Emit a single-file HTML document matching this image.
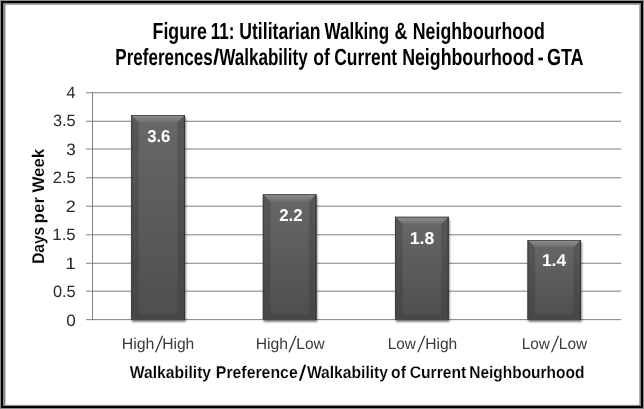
<!DOCTYPE html>
<html><head><meta charset="utf-8">
<style>
html,body{margin:0;padding:0;background:#fff;}
body{width:644px;height:409px;overflow:hidden;}
svg{display:block;filter:grayscale(1);}
text{font-family:"Liberation Sans",sans-serif;text-rendering:geometricPrecision;}
</style></head><body>
<svg width="644" height="409" viewBox="0 0 644 409">
<defs>
<linearGradient id="bevTop" x1="0" y1="0" x2="0" y2="1">
<stop offset="0" stop-color="#9a9a9a"/><stop offset="1" stop-color="#6c6c6c"/>
</linearGradient>
<linearGradient id="face" x1="0" y1="0" x2="0" y2="1">
<stop offset="0" stop-color="#686868"/><stop offset="1" stop-color="#4e4e4e"/>
</linearGradient>
<linearGradient id="side" x1="0" y1="0" x2="0" y2="1">
<stop offset="0" stop-color="#585858"/><stop offset="1" stop-color="#454545"/>
</linearGradient>
<filter id="soft" x="-10%" y="-10%" width="120%" height="120%"><feGaussianBlur stdDeviation="0.6"/></filter>
<filter id="sh" x="-20%" y="-10%" width="140%" height="120%">
<feGaussianBlur stdDeviation="1.1"/>
</filter>
</defs>
<rect x="0" y="0" width="644" height="409" fill="#fff"/>
<!-- frame -->
<g shape-rendering="crispEdges">
<rect x="0" y="0" width="644" height="409" fill="#8c8c8c"/>
<rect x="1" y="1" width="642" height="407" fill="#000"/>
<rect x="3" y="3" width="638" height="403" fill="#fff"/>
<rect x="3" y="3" width="638" height="1" fill="#8c8c8c"/>
<rect x="3" y="4" width="638" height="1" fill="#a0a0a0"/>
<rect x="3" y="405" width="638" height="1" fill="#909090"/>
<rect x="5" y="404" width="634" height="1" fill="#ebebeb"/>
<rect x="3" y="3" width="2" height="403" fill="#868686"/>
<rect x="5" y="5" width="1" height="400" fill="#c8c8c8"/>
<rect x="640" y="3" width="1" height="403" fill="#868686"/>
<rect x="639" y="5" width="1" height="400" fill="#b4b4b4"/>
</g>

<!-- gridlines -->
<g stroke="#7f7f7f" stroke-width="1" fill="none">
<path d="M86 92.75H621.2"/>
<path d="M86 121.25H621.2"/>
<path d="M86 149.00H621.2"/>
<path d="M86 177.75H621.2"/>
<path d="M86 206.20H621.2"/>
<path d="M86 234.80H621.2"/>
<path d="M86 263.25H621.2"/>
<path d="M86 291.15H621.2"/>
<path d="M86 319.65H621.2"/>
<path d="M92.5 92.25V320.15"/>
</g>
<!-- bars -->
<g>
<clipPath id="c0"><rect x="131.2" y="115.0" width="53.8" height="204.6"/></clipPath>
<rect x="132.0" y="117.2" width="53.8" height="204.6" fill="#000" opacity="0.55" filter="url(#sh)"/>
<rect x="131.2" y="115.0" width="53.8" height="204.6" fill="url(#face)"/>
<g clip-path="url(#c0)"><g filter="url(#soft)">
<path d="M129.2 113.0H187.0L177.5 122.5H138.7Z" fill="url(#bevTop)"/>
<path d="M129.2 113.0L138.7 122.5V314.1L129.2 321.6Z" fill="url(#side)"/>
<path d="M187.0 113.0L177.5 122.5V314.1L187.0 321.6Z" fill="url(#side)"/>
<path d="M129.2 321.6L138.7 314.1H177.5L187.0 321.6Z" fill="#464646"/>
</g></g>
<path d="M131.2 115.5H185.0" stroke="#505050" stroke-width="1" fill="none"/>
<path d="M184.5 115.0V319.6" stroke="#333" stroke-width="1" fill="none"/>
<path d="M131.7 115.0V319.6" stroke="#3e3e3e" stroke-width="1" fill="none"/>
</g>
<g>
<clipPath id="c1"><rect x="262.9" y="194.2" width="53.5" height="125.4"/></clipPath>
<rect x="263.7" y="196.4" width="53.5" height="125.4" fill="#000" opacity="0.55" filter="url(#sh)"/>
<rect x="262.9" y="194.2" width="53.5" height="125.4" fill="url(#face)"/>
<g clip-path="url(#c1)"><g filter="url(#soft)">
<path d="M260.9 192.2H318.4L308.9 201.7H270.4Z" fill="url(#bevTop)"/>
<path d="M260.9 192.2L270.4 201.7V314.1L260.9 321.6Z" fill="url(#side)"/>
<path d="M318.4 192.2L308.9 201.7V314.1L318.4 321.6Z" fill="url(#side)"/>
<path d="M260.9 321.6L270.4 314.1H308.9L318.4 321.6Z" fill="#464646"/>
</g></g>
<path d="M262.9 194.7H316.4" stroke="#505050" stroke-width="1" fill="none"/>
<path d="M315.9 194.2V319.6" stroke="#333" stroke-width="1" fill="none"/>
<path d="M263.4 194.2V319.6" stroke="#3e3e3e" stroke-width="1" fill="none"/>
</g>
<g>
<clipPath id="c2"><rect x="395.1" y="216.8" width="53.6" height="102.8"/></clipPath>
<rect x="395.9" y="219.0" width="53.6" height="102.8" fill="#000" opacity="0.55" filter="url(#sh)"/>
<rect x="395.1" y="216.8" width="53.6" height="102.8" fill="url(#face)"/>
<g clip-path="url(#c2)"><g filter="url(#soft)">
<path d="M393.1 214.8H450.7L441.2 224.3H402.6Z" fill="url(#bevTop)"/>
<path d="M393.1 214.8L402.6 224.3V314.1L393.1 321.6Z" fill="url(#side)"/>
<path d="M450.7 214.8L441.2 224.3V314.1L450.7 321.6Z" fill="url(#side)"/>
<path d="M393.1 321.6L402.6 314.1H441.2L450.7 321.6Z" fill="#464646"/>
</g></g>
<path d="M395.1 217.3H448.7" stroke="#505050" stroke-width="1" fill="none"/>
<path d="M448.2 216.8V319.6" stroke="#333" stroke-width="1" fill="none"/>
<path d="M395.6 216.8V319.6" stroke="#3e3e3e" stroke-width="1" fill="none"/>
</g>
<g>
<clipPath id="c3"><rect x="527.6" y="240.0" width="53.4" height="79.6"/></clipPath>
<rect x="528.4" y="242.2" width="53.4" height="79.6" fill="#000" opacity="0.55" filter="url(#sh)"/>
<rect x="527.6" y="240.0" width="53.4" height="79.6" fill="url(#face)"/>
<g clip-path="url(#c3)"><g filter="url(#soft)">
<path d="M525.6 238.0H583.0L573.5 247.5H535.1Z" fill="url(#bevTop)"/>
<path d="M525.6 238.0L535.1 247.5V314.1L525.6 321.6Z" fill="url(#side)"/>
<path d="M583.0 238.0L573.5 247.5V314.1L583.0 321.6Z" fill="url(#side)"/>
<path d="M525.6 321.6L535.1 314.1H573.5L583.0 321.6Z" fill="#464646"/>
</g></g>
<path d="M527.6 240.5H581.0" stroke="#505050" stroke-width="1" fill="none"/>
<path d="M580.5 240.0V319.6" stroke="#333" stroke-width="1" fill="none"/>
<path d="M528.1 240.0V319.6" stroke="#3e3e3e" stroke-width="1" fill="none"/>
</g>
<!-- bar labels -->
<g font-size="17.2" font-weight="bold" fill="#fff">
<text x="147.13" y="141.70" textLength="23.31" lengthAdjust="spacingAndGlyphs">3.6</text>
<text x="279.15" y="220.90" textLength="23.50" lengthAdjust="spacingAndGlyphs">2.2</text>
<text x="409.71" y="244.10" textLength="24.54" lengthAdjust="spacingAndGlyphs">1.8</text>
<text x="541.93" y="266.30" textLength="24.20" lengthAdjust="spacingAndGlyphs">1.4</text>
</g>
<!-- y labels -->
<g font-size="16.5" fill="#2b2b2b">
<text x="66.43" y="97.80" textLength="9.00" lengthAdjust="spacingAndGlyphs">4</text>
<text x="52.98" y="126.32" textLength="22.76" lengthAdjust="spacingAndGlyphs">3.5</text>
<text x="66.15" y="154.84" textLength="9.57" lengthAdjust="spacingAndGlyphs">3</text>
<text x="52.72" y="183.36" textLength="23.03" lengthAdjust="spacingAndGlyphs">2.5</text>
<text x="65.84" y="211.88" textLength="10.05" lengthAdjust="spacingAndGlyphs">2</text>
<text x="52.32" y="240.40" textLength="23.44" lengthAdjust="spacingAndGlyphs">1.5</text>
<text x="65.36" y="268.92" textLength="10.57" lengthAdjust="spacingAndGlyphs">1</text>
<text x="52.98" y="297.44" textLength="22.76" lengthAdjust="spacingAndGlyphs">0.5</text>
<text x="66.15" y="325.96" textLength="9.57" lengthAdjust="spacingAndGlyphs">0</text>
</g>
<!-- x labels -->
<g font-size="15.7" fill="#3a3a3a">
<text x="121.70" y="348.80" textLength="32.73" lengthAdjust="spacingAndGlyphs">High</text>
<text x="162.16" y="348.80" textLength="32.12" lengthAdjust="spacingAndGlyphs">High</text>
<text x="255.65" y="348.80" textLength="32.27" lengthAdjust="spacingAndGlyphs">High</text>
<text x="296.37" y="348.80" textLength="28.31" lengthAdjust="spacingAndGlyphs">Low</text>
<text x="387.68" y="348.80" textLength="28.05" lengthAdjust="spacingAndGlyphs">Low</text>
<text x="425.16" y="348.80" textLength="32.12" lengthAdjust="spacingAndGlyphs">High</text>
<text x="521.64" y="348.80" textLength="28.20" lengthAdjust="spacingAndGlyphs">Low</text>
<text x="558.87" y="348.80" textLength="28.26" lengthAdjust="spacingAndGlyphs">Low</text>
<path d="M154.9 352.3H156.3L163.2 335.7H161.8Z"/>
<path d="M288.4 352.3H289.8L296.7 335.7H295.3Z"/>
<path d="M417.2 352.3H418.6L425.5 335.7H424.1Z"/>
<path d="M550.9 352.3H552.3L559.2 335.7H557.8Z"/>
</g>
<!-- axis titles -->
<g font-size="17.0" font-weight="bold" fill="#000" stroke="#fff" stroke-width="0.15">
<text x="129.80" y="377.70" textLength="81.26" lengthAdjust="spacingAndGlyphs">Walkability</text>
<text x="215.85" y="377.70" textLength="81.84" lengthAdjust="spacingAndGlyphs">Preference</text>
<text x="306.90" y="377.70" textLength="81.11" lengthAdjust="spacingAndGlyphs">Walkability</text>
<text x="391.12" y="377.70" textLength="14.80" lengthAdjust="spacingAndGlyphs">of</text>
<text x="409.71" y="377.70" textLength="56.65" lengthAdjust="spacingAndGlyphs">Current</text>
<text x="469.24" y="377.70" textLength="115.12" lengthAdjust="spacingAndGlyphs">Neighbourhood</text>
<path d="M298.9 380.8H301.0L306.1 364.7H304.0Z" stroke="none"/>
<text transform="rotate(-90)" x="-263.82" y="43.80" textLength="36.90" lengthAdjust="spacingAndGlyphs">Days</text>
<text transform="rotate(-90)" x="-223.42" y="43.80" textLength="26.44" lengthAdjust="spacingAndGlyphs">per</text>
<text transform="rotate(-90)" x="-192.60" y="43.80" textLength="43.88" lengthAdjust="spacingAndGlyphs">Week</text>
</g>
<!-- title -->
<g font-size="23.4" font-weight="bold" fill="#000">
<text x="152.56" y="38.70" textLength="54.29" lengthAdjust="spacingAndGlyphs">Figure</text>
<text x="210.71" y="38.70" textLength="23.65" lengthAdjust="spacingAndGlyphs">11:</text>
<text x="239.26" y="38.70" textLength="81.27" lengthAdjust="spacingAndGlyphs">Utilitarian</text>
<text x="324.50" y="38.70" textLength="64.64" lengthAdjust="spacingAndGlyphs">Walking</text>
<text x="394.44" y="38.70" textLength="12.85" lengthAdjust="spacingAndGlyphs">&amp;</text>
<text x="412.76" y="38.70" textLength="132.15" lengthAdjust="spacingAndGlyphs">Neighbourhood</text>
<text x="115.31" y="64.70" textLength="97.47" lengthAdjust="spacingAndGlyphs">Preferences</text>
<text x="219.20" y="64.70" textLength="88.55" lengthAdjust="spacingAndGlyphs">Walkability</text>
<text x="313.24" y="64.70" textLength="16.62" lengthAdjust="spacingAndGlyphs">of</text>
<text x="334.16" y="64.70" textLength="62.92" lengthAdjust="spacingAndGlyphs">Current</text>
<text x="402.16" y="64.70" textLength="132.26" lengthAdjust="spacingAndGlyphs">Neighbourhood</text>
<text x="537.73" y="64.70" textLength="5.98" lengthAdjust="spacingAndGlyphs">-</text>
<text x="546.93" y="64.70" textLength="36.66" lengthAdjust="spacingAndGlyphs">GTA</text>
<path d="M213.3 64.7H215.9L219.2 48.3H216.6Z"/>
</g>
</svg>
</body></html>
